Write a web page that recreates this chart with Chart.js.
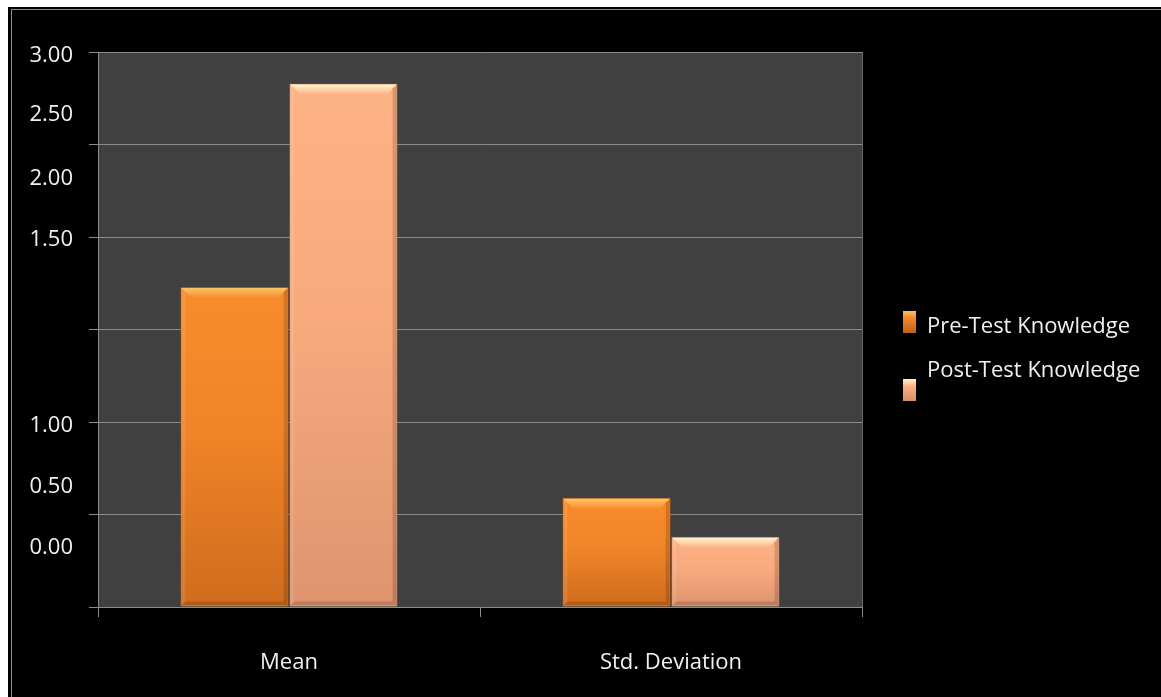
<!DOCTYPE html>
<html>
<head>
<meta charset="utf-8">
<script src="https://cdn.jsdelivr.net/npm/chart.js@4.4.1/dist/chart.umd.min.js"></script>
<style>
  html, body { margin: 0; padding: 0; background: #fff; overflow: hidden; }
  #frame { position: absolute; left: 8px; top: 7px; width: 1200px; height: 720px; background: #000; }
  #frame::before { content: ''; position: absolute; left: 3px; top: 2px; right: 0; bottom: 0; border-left: 1px solid #8a8a8a; border-top: 1px solid #8a8a8a; }
  #wrap { position: absolute; left: 0; top: 0; width: 1161px; height: 697px; }
  .legend { position: absolute; left: 903px; top: 300px; font: 22px 'Open Sans', sans-serif; color: #f0f0f0; }
  .legend .box { position: absolute; width: 13px; height: 22px; }
  .legend .label { position: absolute; left: 24px; white-space: nowrap; }
</style>
</head>
<body>
<div id="frame"></div>
<div id="wrap"><canvas id="chart" width="1161" height="697"></canvas></div>
<div class="legend">
  <div class="box" style="top: 11px; background: linear-gradient(#fcc064 0, #f58a2a 30%, #c0601a 100%);"></div>
  <div class="label" style="top: 9px;">Pre-Test Knowledge</div>
  <div class="box" style="top: 79px; background: linear-gradient(#fff2c8 0, #fcae80 35%, #d88c68 100%);"></div>
  <div class="label" style="top: 53px;">Post-Test Knowledge</div>
</div>
<script>
const categories = ['Mean', 'Std. Deviation'];
const preTest = [1.73, 0.59];
const postTest = [2.83, 0.38];
const seriesNames = ['Pre-Test Knowledge', 'Post-Test Knowledge'];

// y labels as printed in the source (they sit off the gridlines)
const yTickLabels = ['3.00', '2.50', '2.00', '1.50', '1.00', '0.50', '0.00'];
const yTickLabelAt = [2.978, 2.659, 2.314, 1.984, 0.978, 0.649, 0.319];

const FONT = "'Open Sans', sans-serif";

const palettes = [
  { top: '#f88c2c', mid: '#f08428', bottom: '#d06c1e', bevel: '#fdc466', edge: '#a85414' },
  { top: '#fdb285', mid: '#f8aa7e', bottom: '#de946e', bevel: '#fff5d0', edge: '#9a6a55' },
];

const plotBg = {
  id: 'plotBg',
  beforeDraw(chart) {
    const { ctx, chartArea: a } = chart;
    ctx.save();
    ctx.fillStyle = '#404040';
    ctx.fillRect(a.left, a.top, a.right - a.left, a.bottom - a.top);
    ctx.strokeStyle = '#6a6a6a';
    ctx.beginPath();
    ctx.moveTo(a.right + 0.5, a.top);
    ctx.lineTo(a.right + 0.5, a.bottom);
    ctx.stroke();
    ctx.restore();
  },
};

// per-bar gradient body plus bevelled edges
const bevel = {
  id: 'bevel',
  afterDatasetsDraw(chart) {
    const { ctx } = chart;
    chart.data.datasets.forEach((ds, di) => {
      const p = palettes[di];
      chart.getDatasetMeta(di).data.forEach((bar) => {
        const l = bar.x - bar.width / 2 + 1;
        const r = bar.x + bar.width / 2 - 1;
        const t = bar.y + 1;
        const b = bar.base - 1;
        const d = 10;
        ctx.save();
        const body = ctx.createLinearGradient(0, t, 0, b);
        body.addColorStop(0, p.top);
        body.addColorStop(0.45, p.mid);
        body.addColorStop(1, p.bottom);
        ctx.fillStyle = body;
        ctx.fillRect(l, t, r - l, b - t);
        // top bevel
        const g = ctx.createLinearGradient(0, t, 0, t + d);
        g.addColorStop(0, p.bevel);
        g.addColorStop(1, p.top);
        ctx.fillStyle = g;
        ctx.beginPath();
        ctx.moveTo(l, t);
        ctx.lineTo(r, t);
        ctx.lineTo(r - d, t + d);
        ctx.lineTo(l + d, t + d);
        ctx.closePath();
        ctx.fill();
        // side shading
        ctx.globalAlpha = 0.15;
        ctx.fillStyle = '#000';
        ctx.beginPath();
        ctx.moveTo(r, t);
        ctx.lineTo(r, b);
        ctx.lineTo(r - 4, b - 4);
        ctx.lineTo(r - 4, t + 4);
        ctx.closePath();
        ctx.fill();
        ctx.beginPath();
        ctx.moveTo(l, b);
        ctx.lineTo(r, b);
        ctx.lineTo(r - 4, b - 4);
        ctx.lineTo(l + 4, b - 4);
        ctx.closePath();
        ctx.fill();
        ctx.globalAlpha = 0.1;
        ctx.fillStyle = '#fff';
        ctx.beginPath();
        ctx.moveTo(l, t);
        ctx.lineTo(l + 4, t + 4);
        ctx.lineTo(l + 4, b - 4);
        ctx.lineTo(l, b);
        ctx.closePath();
        ctx.fill();
        ctx.restore();
      });
    });
  },
};

const yLabels = {
  id: 'yLabels',
  afterDraw(chart) {
    const { ctx } = chart;
    const y = chart.scales.y;
    ctx.save();
    ctx.font = `22px ${FONT}`;
    ctx.fillStyle = '#f0f0f0';
    ctx.textAlign = 'right';
    ctx.textBaseline = 'middle';
    yTickLabels.forEach((txt, i) => {
      ctx.fillText(txt, 73, y.getPixelForValue(yTickLabelAt[i]));
    });
    ctx.restore();
  },
};

new Chart(document.getElementById('chart'), {
  type: 'bar',
  data: {
    labels: categories,
    datasets: [
      {
        label: seriesNames[0],
        data: preTest,
        backgroundColor: palettes[0].top,
        borderColor: palettes[0].edge,
        borderWidth: 1,
        barPercentage: 0.995,
        categoryPercentage: 0.57,
      },
      {
        label: seriesNames[1],
        data: postTest,
        backgroundColor: palettes[1].top,
        borderColor: palettes[1].edge,
        borderWidth: 1,
        barPercentage: 0.995,
        categoryPercentage: 0.57,
      },
    ],
  },
  options: {
    responsive: false,
    animation: false,
    events: [],
    layout: { padding: { top: 52, right: 299, left: 0, bottom: 0 } },
    plugins: {
      legend: { display: false },
      tooltip: { enabled: false },
    },
    scales: {
      x: {
        afterFit: (s) => { s.height = 90; },
        border: { color: '#8c8c8c', width: 1 },
        grid: { drawOnChartArea: false, drawTicks: true, tickLength: 10, color: '#8c8c8c' },
        ticks: { color: '#f0f0f0', font: { family: FONT, size: 22 }, padding: 33 },
      },
      y: {
        min: 0,
        max: 3,
        afterFit: (s) => { s.width = 98; },
        border: { color: '#8c8c8c', width: 1 },
        grid: { color: '#8c8c8c', tickLength: 9 },
        ticks: { stepSize: 0.5, display: false },
      },
    },
  },
  plugins: [plotBg, bevel, yLabels],
});
</script>
</body>
</html>
